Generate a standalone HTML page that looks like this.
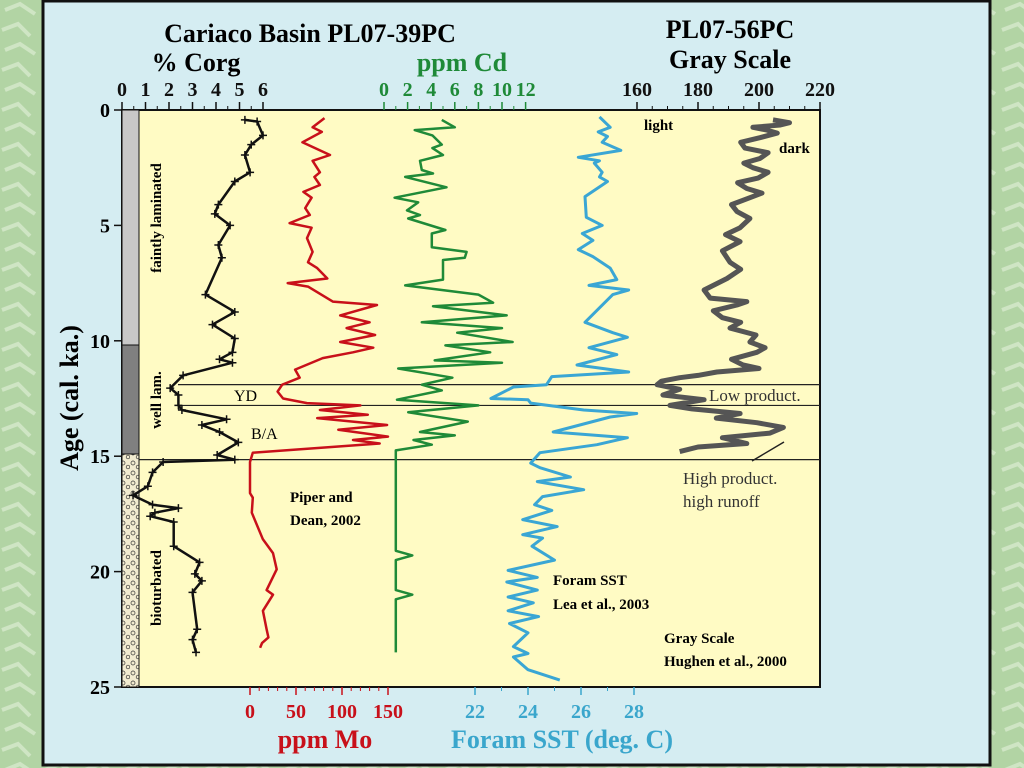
<!DOCTYPE html>
<html><head><meta charset="utf-8"><style>
body{margin:0;width:1024px;height:768px;overflow:hidden;background:#b5d6a8;font-family:"Liberation Serif",serif}
svg{display:block}
</style></head><body>
<svg width="1024" height="768" xmlns="http://www.w3.org/2000/svg">
<defs>
<pattern id="peb" width="10" height="10" patternUnits="userSpaceOnUse"><rect width="10" height="10" fill="#f2ecd0"/><circle cx="3" cy="3" r="2" fill="none" stroke="#333" stroke-width="0.7"/><circle cx="8" cy="7" r="1.8" fill="none" stroke="#333" stroke-width="0.7"/></pattern>
<pattern id="bg" width="40" height="40" patternUnits="userSpaceOnUse"><rect width="40" height="40" fill="#b2d4a4"/><path d="M5 10 L20 4 L35 14 M2 30 L18 24 L30 36" stroke="#cfe5c4" stroke-width="4" fill="none"/></pattern>
</defs>
<rect width="1024" height="768" fill="url(#bg)"/>
<rect x="43" y="1" width="947" height="764" fill="#d5edf2" stroke="#111" stroke-width="3"/>
<rect x="122" y="110" width="698" height="577" fill="#fffbc4" stroke="#111" stroke-width="2"/>
<g id="lith">
<rect x="122" y="110" width="17" height="235" fill="#c8c8c8" stroke="#111"/>
<rect x="122" y="345" width="17" height="109" fill="#808080" stroke="#111"/>
<rect x="122" y="454" width="17" height="233" fill="url(#peb)" stroke="#111"/>
</g>
<g id="refl" stroke="#222" stroke-width="1.2"></g>
<g id="series"></g>
<g id="axes" font-weight="bold" font-size="20"></g>
<g font-weight="bold" font-size="26" text-anchor="middle">
<text x="310" y="42">Cariaco Basin PL07-39PC</text>
<text x="196" y="71">% Corg</text>
<text x="462" y="71" fill="#1f8a38">ppm Cd</text>
<text x="730" y="38">PL07-56PC</text>
<text x="730" y="68">Gray Scale</text>
<text x="325" y="748" fill="#c8101a">ppm Mo</text>
<text x="562" y="748" fill="#3aa6cc">Foram SST (deg. C)</text>
<text transform="translate(78,398) rotate(-90)">Age (cal. ka.)</text>
</g>
<g font-weight="bold" font-size="15">
<text transform="translate(161,218) rotate(-90)" text-anchor="middle">faintly laminated</text>
<text transform="translate(161,400) rotate(-90)" text-anchor="middle">well lam.</text>
<text transform="translate(161,588) rotate(-90)" text-anchor="middle">bioturbated</text>
<text x="234" y="401" font-size="16" font-weight="normal">YD</text>
<text x="251" y="439" font-size="16" font-weight="normal">B/A</text>
<text x="290" y="502">Piper and</text>
<text x="290" y="525">Dean, 2002</text>
<text x="553" y="585">Foram SST</text>
<text x="553" y="609">Lea et al., 2003</text>
<text x="664" y="643">Gray Scale</text>
<text x="664" y="666">Hughen et al., 2000</text>
<text x="644" y="130">light</text>
<text x="779" y="153">dark</text>
<text x="709" y="401" font-size="17" font-weight="normal" fill="#333">Low product.</text>
<text x="683" y="484" font-size="17" font-weight="normal" fill="#333">High product.</text>
<text x="683" y="507" font-size="17" font-weight="normal" fill="#333">high runoff</text>
<line x1="752" y1="461" x2="784" y2="442" stroke="#222" stroke-width="1.5"/>
</g>
</svg>
<script>
const NS="http://www.w3.org/2000/svg";
const ageTicks=[0,5,10,15,20,25];
const corgTicks=[0,1,2,3,4,5,6];
const cdTicks=[0,2,4,6,8,10,12];
const grayTicks=[160,180,200,220];
const moTicks=[0,50,100,150];
const sstTicks=[22,24,26,28];
const eventAges=[11.9,12.8,15.15];
const corgAge=[0.43,0.5,1.1,1.5,1.95,2.7,3.1,4.1,4.5,5.0,5.85,6.4,8.0,8.75,9.3,9.9,10.5,10.8,10.95,11.5,12.05,12.35,12.8,13.0,13.4,13.65,13.95,14.4,14.95,15.15,15.25,15.7,16.3,16.7,17.1,17.25,17.45,17.6,17.85,18.9,19.6,20.1,20.4,20.9,22.5,22.95,23.5];
const corgVal=[5.23,5.75,6.0,5.5,5.23,5.45,4.8,4.1,3.95,4.6,4.1,4.25,3.55,4.8,3.85,4.8,4.7,4.15,4.7,2.6,2.05,2.4,2.4,2.55,4.45,3.4,4.15,4.95,4.05,4.8,1.75,1.3,1.1,0.47,1.3,2.4,1.4,1.2,2.2,2.2,3.3,3.1,3.4,3.0,3.2,3.0,3.15];
const moAge=[0.35,0.75,0.95,1.4,1.95,2.2,2.7,2.9,3.25,3.55,3.8,4.25,4.55,4.9,5.1,5.55,6.15,6.6,6.85,7.3,7.5,7.65,8.3,8.45,8.9,9.2,9.45,9.75,10.05,10.3,10.5,10.75,11.25,11.6,11.9,12.2,12.5,12.7,12.8,13.0,13.2,13.35,13.65,13.85,14.15,14.3,14.45,14.85,15.25,16.6,16.8,17.45,18.6,19.2,19.9,20.8,21.0,21.7,22.5,22.85,23.1,23.3];
const moVal=[81,68,78,57,87,68,76,70,76,58,67,60,65,43,67,62,68,63,73,84,41,63,90,138,98,130,105,136,98,134,112,79,49,54,35,30,36,62,120,76,128,73,149,96,150,112,141,3,0,0,3,2,14,25,29,18,25,14,18,20,13,11];
const cdAge=[0.43,0.75,0.87,1.1,1.5,1.65,1.95,2.2,2.6,2.75,2.9,3.35,3.8,4.0,4.35,4.55,4.7,5.2,5.35,5.95,6.15,6.4,6.5,7.35,7.6,8.0,8.35,8.5,8.9,9.2,9.45,9.65,10.05,10.2,10.5,10.85,10.95,11.2,11.6,11.9,12.15,12.55,12.8,13.1,13.5,13.95,14.1,14.3,14.5,14.75,19.1,19.3,19.5,20.8,21.0,21.2,23.5];
const cdVal=[4.9,6.0,2.6,4.1,4.9,4.1,5.0,3.05,3.2,4.15,1.8,5.3,0.9,2.9,1.95,3.05,2.05,5.2,4.05,4.05,7.0,6.85,5.0,5.0,1.8,8.0,9.25,4.15,10.4,3.2,10.0,6.2,10.9,5.2,9.0,4.3,10.0,1.2,5.8,3.2,4.9,1.1,8.0,2.05,7.1,3.05,6.0,2.5,4.05,1.0,1.0,2.4,1.0,1.0,2.4,1.0,1.0];
const sstAge=[0.3,0.75,0.95,1.15,1.4,1.75,2.05,2.2,2.3,2.7,2.9,3.1,3.75,4.65,5.0,5.35,5.65,6.05,6.35,6.85,7.35,7.6,7.8,8.0,9.2,9.65,9.85,10.3,10.6,11.05,11.35,11.55,11.9,12.0,12.5,12.55,12.7,13.0,13.15,13.3,13.95,14.2,14.5,14.85,15.3,15.5,15.9,16.1,16.45,16.75,17.1,17.35,17.75,18.05,18.4,18.55,18.9,19.5,19.95,20.25,20.45,20.8,21.1,21.35,21.7,21.95,22.25,22.65,23.25,23.55,23.7,24.25,24.7];
const sstVal=[26.7,27.1,26.65,27.0,26.8,27.5,25.9,26.7,26.5,26.8,26.7,27.0,26.15,26.2,26.8,26.05,26.45,25.9,26.45,27.1,27.35,26.3,27.8,27.2,26.15,27.2,27.75,26.3,27.35,25.85,27.8,24.9,24.7,23.45,22.6,24.0,24.1,26.1,28.1,27.1,24.95,27.75,26.6,24.45,24.1,24.45,25.6,24.35,26.1,24.55,24.25,24.9,23.8,25.1,23.8,24.55,24.15,25.0,23.25,24.35,23.2,24.35,23.25,24.2,23.25,24.4,23.3,24.0,23.45,24.0,23.45,24.0,25.2];
const grayAge=[0.43,0.55,0.65,0.75,0.87,1.0,1.2,1.4,1.65,1.85,2.1,2.3,2.5,2.7,2.95,3.15,3.4,3.6,3.8,4.1,4.4,4.7,5.1,5.4,5.7,6.1,6.6,6.9,7.3,7.8,8.15,8.3,8.45,8.7,9.0,9.2,9.45,9.75,10.05,10.3,10.5,10.8,11.05,11.2,11.35,11.5,11.6,11.75,11.9,12.1,12.35,12.55,12.8,12.95,13.15,13.35,13.55,13.75,14.0,14.2,14.45,14.6,14.8];
const grayVal=[204.6,210,207,198,202.6,206,200.3,194,195.4,203,200.3,195,198,203,199.7,193,196,201,197,191,192.8,197,193.8,189,193.8,188,190.5,194,189.5,182,184,196,192.8,185,188,194,190.5,199,197,202,199.3,191,194.8,200,186.2,180,174,168,166.6,174,168.5,182,170.8,178,193.8,186,199.3,208,203.6,188,196,180,174];

const yA=a=>110+a*577/25;
const xCorg=v=>122+v*23.5;
const xCd=v=>384+v*11.8;
const xGray=v=>637+(v-160)*3.05;
const xMo=v=>250+v*0.92;
const xSst=v=>475+(v-22)*26.5;

const ser=document.getElementById('series'), ax=document.getElementById('axes'), refl=document.getElementById('refl');
function mk(tag,attrs,parent){const e=document.createElementNS(NS,tag);for(const k in attrs)e.setAttribute(k,attrs[k]);parent.appendChild(e);return e;}

eventAges.forEach((a,i)=>{
 const l=mk('line',{x1:i==2?139:178,x2:820,y1:yA(a),y2:yA(a)},refl);
 
 
});

function line(ages,vals,fx,color,w,name){
 const pts=ages.map((a,i)=>fx(vals[i]).toFixed(1)+','+yA(a).toFixed(1)).join(' ');
 const p=mk('polyline',{points:pts,fill:'none',stroke:color,'stroke-width':w,'stroke-linejoin':'round'},ser);
 
 
}
line(grayAge,grayVal,xGray,'#555',5,'grayscale-series');
line(corgAge,corgVal,xCorg,'#111',2.5,'corg-series');
corgAge.forEach((a,i)=>{const x=xCorg(corgVal[i]),y=yA(a);
 const m=mk('path',{d:`M${x-4},${y}h8M${x},${y-4}v8`,stroke:'#111','stroke-width':1.5},ser);
 
 });
line(moAge,moVal,xMo,'#c8101a',2.5,'mo-series');
line(cdAge,cdVal,xCd,'#1f8a38',2.5,'cd-series');
line(sstAge,sstVal,xSst,'#3aa6d4',3,'sst-series');

function ticks(vals,fx,y,dir,color,labY,name,nMinor){
 vals.forEach((v,i)=>{const x=fx(v);
  const t=mk('line',{x1:x,x2:x,y1:y,y2:y+dir*8,stroke:color,'stroke-width':1.5},ax);
  
  
  if(i<vals.length-1){const x2=fx(vals[i+1]);for(let k=1;k<nMinor;k++){const xm=x+(x2-x)*k/nMinor;mk('line',{x1:xm,x2:xm,y1:y,y2:y+dir*4,stroke:color,'stroke-width':1},ax);}}
  const tx=mk('text',{x:x,y:labY,fill:color,'text-anchor':'middle'},ax);tx.textContent=v;
  
  
 });
}
ticks(corgTicks,xCorg,110,-1,'#111',96,'corg',2);
ticks(cdTicks,xCd,110,-1,'#1f8a38',96,'cd',2);
ticks(grayTicks,xGray,110,-1,'#111',96,'grayscale',4);
ticks(moTicks,xMo,687,1,'#c8101a',718,'mo',5);
ticks(sstTicks,xSst,687,1,'#3aa6cc',718,'sst',2);
ageTicks.forEach(a=>{
 const t=mk('line',{x1:114,x2:122,y1:yA(a),y2:yA(a),stroke:'#111','stroke-width':1.5},ax);
 
 
 const tx=mk('text',{x:110,y:yA(a)+7,'text-anchor':'end'},ax);tx.textContent=a;
 
 
});
</script>
</body></html>
